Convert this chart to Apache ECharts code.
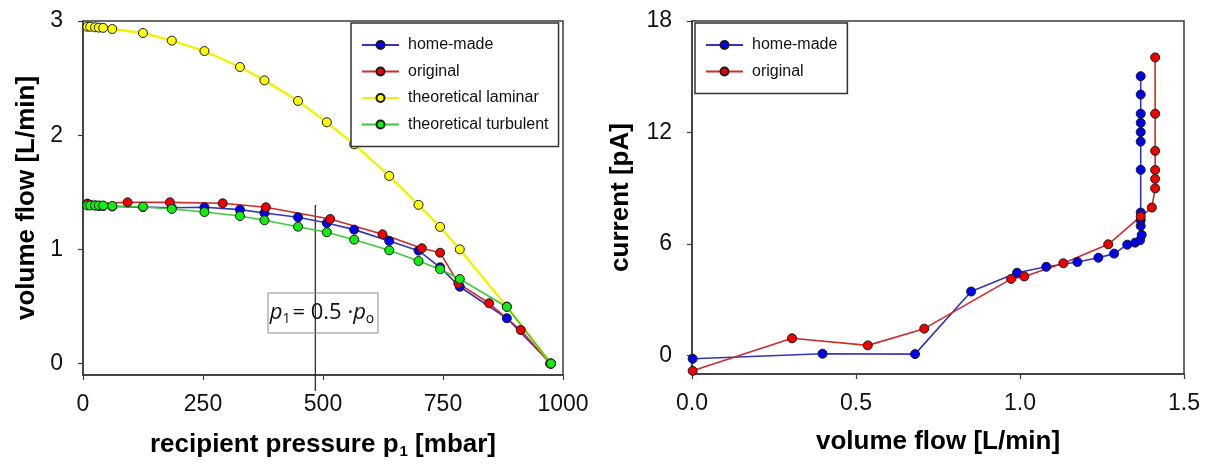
<!DOCTYPE html>
<html><head><meta charset="utf-8">
<script src="https://cdn.jsdelivr.net/npm/echarts@6/dist/echarts.min.js"></script>
<style>html,body{margin:0;padding:0;background:#fff}#c{width:1205px;height:470px}</style>
</head><body><div id="c"></div>
<script>
// ---- Left chart data ----
const pressureTheory = [9,15,25,33,42,61,125,185,253,327,378,448,508,565,638,699,744,785,883,975];
const flowHomeMade   = [1.40,1.39,1.385,1.38,1.38,1.375,1.37,1.365,1.369,1.348,1.319,1.281,1.231,1.173,1.074,0.989,0.843,0.673,0.397,0];
const flowLaminar    = [2.95,2.95,2.945,2.942,2.94,2.93,2.895,2.828,2.737,2.597,2.48,2.30,2.113,1.92,1.643,1.39,1.197,1.0,0.5,0];
const flowTurbulent  = [1.385,1.385,1.385,1.385,1.384,1.38,1.374,1.354,1.327,1.292,1.255,1.199,1.15,1.085,0.992,0.898,0.826,0.741,0.496,0];
const pressureOriginal = [9,93,181,291,381,515,624,706,744,782,846,912,973];
const flowOriginal     = [1.40,1.412,1.412,1.404,1.369,1.266,1.132,1.01,0.971,0.703,0.528,0.294,0];
const halfPressure = 484;               // p1 = 0.5 * p0
const halfLineFlow = [1.389, -0.24];
const leftXTicks = [0,250,500,750,1000];
const leftYTicks = [0,1,2,3];

// ---- Right chart data ----
const flowHome2   = [0.002,0.398,0.68,0.851,0.991,1.08,1.175,1.239,1.287,1.327,1.351,1.366,1.371,1.368,1.368,1.368,1.368,1.368,1.368,1.368,1.368,1.368,1.368];
const currentHome = [-0.18,0.09,0.07,3.44,4.45,4.77,5.03,5.26,5.48,5.96,6.07,6.2,6.49,6.97,7.28,7.69,9.99,11.51,12.02,12.52,13.01,14.04,15.03];
const flowOrig2   = [0.002,0.305,0.536,0.708,0.973,1.013,1.132,1.269,1.368,1.402,1.412,1.412,1.412,1.412,1.412,1.412];
const currentOrig = [-0.83,0.92,0.54,1.44,4.12,4.25,4.96,5.98,7.48,7.96,8.99,9.5,9.98,11.01,13.01,16.04];
const rightYTicks = [0,6,12,18];

const zip = (a,b) => a.map((v,i)=>[v,b[i]]);
const FONT = '"Liberation Sans", Arial, sans-serif';
const AX = '#3a3a3a';

function axisCommon(){
  return {
    axisLine:{show:true,onZero:false,lineStyle:{color:AX,width:1.5}},
    axisTick:{show:true,inside:false,length:5,lineStyle:{color:AX,width:1.2}},
    splitLine:{show:false},
    axisLabel:{color:'#111',fontFamily:FONT,fontSize:23},
    nameTextStyle:{color:'#000',fontFamily:FONT,fontSize:26,fontWeight:'bold'}
  };
}

function mk(name, color, lineColor, data, xi, lw){
  return {
    name, type:'line', xAxisIndex:xi, yAxisIndex:xi, data,
    symbol:'circle', symbolSize:9,
    itemStyle:{color, borderColor:'#1a1a1a', borderWidth:1},
    lineStyle:{color:lineColor, width:lw||1.6},
    emphasis:{disabled:true}, animation:false
  };
}

const xs0 = Object.assign(axisCommon(), {
  gridIndex:0, type:'value', min:0, max:1000, interval:250,
  name:'{b|recipient pressure p}{s|1}{b| [mbar]}', nameLocation:'middle', nameGap:55
});
xs0.axisLabel = Object.assign({}, xs0.axisLabel, {margin:18, customValues:leftXTicks, formatter:v=>String(v)});
xs0.axisTick = Object.assign({}, xs0.axisTick, {customValues:leftXTicks});
xs0.nameTextStyle = Object.assign({}, xs0.nameTextStyle, {rich:{
  b:{fontFamily:FONT,fontSize:26,fontWeight:'bold',color:'#000'},
  s:{fontFamily:FONT,fontSize:15,fontWeight:'bold',color:'#000',padding:[14,0,0,1]}
}});

const ys0 = Object.assign(axisCommon(), {
  gridIndex:0, type:'value', min:-0.1, max:3,
  name:'volume flow [L/min]', nameLocation:'middle', nameGap:43
});
ys0.axisLabel = Object.assign({}, ys0.axisLabel, {margin:20, customValues:leftYTicks});
ys0.axisTick = Object.assign({}, ys0.axisTick, {customValues:leftYTicks});

const xs1 = Object.assign(axisCommon(), {
  gridIndex:1, type:'value', min:0, max:1.5, interval:0.5,
  name:'volume flow [L/min]', nameLocation:'middle', nameGap:55
});
xs1.axisLabel = Object.assign({}, xs1.axisLabel, {margin:18, formatter:v=>v.toFixed(1)});

const ys1 = Object.assign(axisCommon(), {
  gridIndex:1, type:'value', min:-1, max:18,
  name:'current [pA]', nameLocation:'middle', nameGap:58
});
ys1.axisLabel = Object.assign({}, ys1.axisLabel, {margin:20, customValues:rightYTicks});
ys1.axisTick = Object.assign({}, ys1.axisTick, {customValues:rightYTicks});

function legendCfg(left, names){
  return {
    left, top:23, orient:'vertical', data:names,
    itemWidth:37, itemHeight:10, itemGap:10.5,
    padding:[14,10,14,10],
    borderColor:'#333', borderWidth:1.5, backgroundColor:'#fff',
    textStyle:{fontFamily:FONT,fontSize:16,color:'#111',padding:[0,0,0,4]},
    selectedMode:false
  };
}

const option = {
  animation:false,
  backgroundColor:'#fff',
  grid:[
    {left:83, top:21, width:480, height:354, show:true, borderColor:AX, borderWidth:1.5, backgroundColor:'transparent'},
    {left:692, top:21, width:492, height:353, show:true, borderColor:AX, borderWidth:1.5, backgroundColor:'transparent'}
  ],
  xAxis:[xs0, xs1],
  yAxis:[ys0, ys1],
  legend:[
    legendCfg(351, ['home-made','original','theoretical laminar','theoretical turbulent']),
    legendCfg(695, ['home-made','original'])
  ],
  series:[
    {name:'p1 half', type:'line', xAxisIndex:0, yAxisIndex:0,
     data:halfLineFlow.map(v=>[halfPressure,v]), symbol:'none', clip:false, silent:true,
     lineStyle:{color:'#222',width:1.2}, z:1},
    mk('home-made','#0000f0','#3434b8', zip(pressureTheory, flowHomeMade), 0),
    mk('original','#f00000','#d02a2a', zip(pressureOriginal, flowOriginal), 0),
    mk('theoretical laminar','#ffff00','#f2f200', zip(pressureTheory, flowLaminar), 0, 2.4),
    mk('theoretical turbulent','#10f010','#3acc3a', zip(pressureTheory, flowTurbulent), 0),
    mk('home-made','#0000f0','#3434b8', zip(flowHome2, currentHome), 1),
    mk('original','#f00000','#d02a2a', zip(flowOrig2, currentOrig), 1)
  ],
  graphic:[
    {type:'rect', shape:{x:268, y:293, width:110, height:40},
     style:{fill:'none', stroke:'#8a8a8a', lineWidth:1}, z:50},
    {type:'text', x:323, y:313, z:51,
     style:{text:'{i|p}{s|1}{n|= 0.5 ·}{i|p}{s|o}', align:'center', verticalAlign:'middle',
       rich:{
         i:{fontFamily:'"Open Sans", sans-serif', fontStyle:'italic', fontSize:22, fill:'#111', lineHeight:30},
         n:{fontFamily:'"Open Sans", sans-serif', fontSize:22, fill:'#111', lineHeight:30},
         s:{fontFamily:'"Open Sans", sans-serif', fontSize:14, fill:'#111', lineHeight:30, padding:[12,2,0,0]}
       }}}
  ]
};
const chart = echarts.init(document.getElementById('c'), null, {renderer:'canvas'});
chart.setOption(option);
</script></body></html>
